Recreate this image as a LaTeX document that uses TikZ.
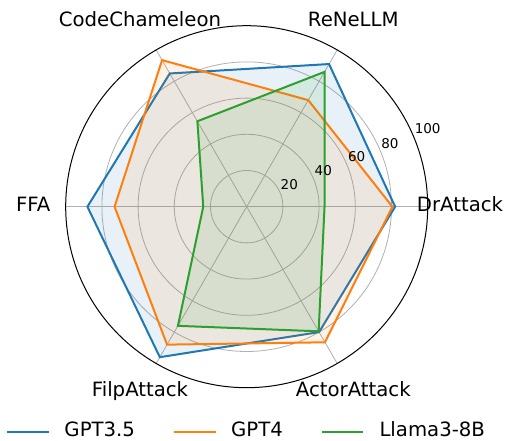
\documentclass[tikz,border=0pt]{standalone}
\usepackage{fontspec}
\setmainfont{DejaVu Sans}
\definecolor{cblue}{HTML}{1F77B4}
\definecolor{corange}{HTML}{FF7F0E}
\definecolor{cgreen}{HTML}{2CA02C}
\definecolor{cgrid}{HTML}{B0B0B0}
\newcommand{\rs}{1.81} % pt per unit of score

\begin{document}
\begin{tikzpicture}[x=1pt,y=1pt,
    axlabel/.style={font=\fontsize{19.7}{22}\selectfont, anchor=base},
    ticklabel/.style={font=\fontsize{13.5}{15}\selectfont},
    gridline/.style={cgrid, line width=0.8pt},
    series/.style={line width=2pt, line join=miter},
    legline/.style={line width=2pt}]
  \useasboundingbox (-246.7,-234.3) rectangle (261.3,206.7);
  \coordinate (O) at (0,0);

  % grid
  \foreach \v in {20,40,60,80}
    \draw[gridline] (O) circle ({\v*\rs});
  \foreach \a in {0,60,...,300}
    \draw[gridline] (O) -- (\a:{100*\rs});
  \draw[line width=1pt] (O) circle ({100*\rs});

  % GPT3.5
  \coordinate (b1) at (0:{82*\rs});
  \coordinate (b2) at (60:{91*\rs});
  \coordinate (b3) at (120:{85*\rs});
  \coordinate (b4) at (180:{88*\rs});
  \coordinate (b5) at (240:{96*\rs});
  \coordinate (b6) at (300:{80*\rs});
  \draw[series, cblue, fill=cblue, fill opacity=0.1] (b1) -- (b2) -- (b3) -- (b4) -- (b5) -- (b6) -- cycle;

  % GPT4
  \coordinate (o1) at (0:{80.5*\rs});
  \coordinate (o2) at (60:{68*\rs});
  \coordinate (o3) at (120:{93.5*\rs});
  \coordinate (o4) at (180:{73*\rs});
  \coordinate (o5) at (240:{88*\rs});
  \coordinate (o6) at (300:{86.5*\rs});
  \draw[series, corange, fill=corange, fill opacity=0.1] (o1) -- (o2) -- (o3) -- (o4) -- (o5) -- (o6) -- cycle;

  % Llama3-8B
  \coordinate (g1) at (0:{43*\rs});
  \coordinate (g2) at (60:{86*\rs});
  \coordinate (g3) at (120:{54.5*\rs});
  \coordinate (g4) at (180:{24*\rs});
  \coordinate (g5) at (240:{76*\rs});
  \coordinate (g6) at (300:{79.5*\rs});
  \draw[series, cgreen, fill=cgreen, fill opacity=0.1] (g1) -- (g2) -- (g3) -- (g4) -- (g5) -- (g6) -- cycle;

  % radial ticks
  \node[ticklabel] (t20) at (42.6,21.7) {20};
  \node[ticklabel] (t40) at (76.6,35.7) {40};
  \node[ticklabel] (t60) at (110,50) {60};
  \node[ticklabel] (t80) at (143.3,63.4) {80};
  \node[ticklabel] (t100) at (181,77.7) {100};

  % axis labels
  \node[axlabel] (dr) at (213.3,-5) {DrAttack};
  \node[axlabel] (re) at (106.6,180) {ReNeLLM};
  \node[axlabel] (cc) at (-106.7,180) {CodeChameleon};
  \node[axlabel] (ffa) at (-213.4,-5) {FFA};
  \node[axlabel] (fa) at (-106.7,-190) {FilpAttack};
  \node[axlabel] (aa) at (106.6,-190) {ActorAttack};

  % legend
  \coordinate (lb0) at (-239.4,-225);
  \coordinate (lb1) at (-197.7,-225);
  \coordinate (lo0) at (-72.4,-225);
  \coordinate (lo1) at (-30.7,-225);
  \coordinate (lg0) at (75.6,-225);
  \coordinate (lg1) at (116.6,-225);
  \draw[legline, cblue] (lb0) -- (lb1);
  \draw[legline, corange] (lo0) -- (lo1);
  \draw[legline, cgreen] (lg0) -- (lg1);
  \node[axlabel, anchor=base west, inner sep=0pt] (lbt) at (-182.4,-230) {GPT3.5};
  \node[axlabel, anchor=base west, inner sep=0pt] (lot) at (-15.7,-230) {GPT4};
  \node[axlabel, anchor=base west, inner sep=0pt] (lgt) at (132.6,-230) {Llama3-8B};
\end{tikzpicture}
\end{document}
